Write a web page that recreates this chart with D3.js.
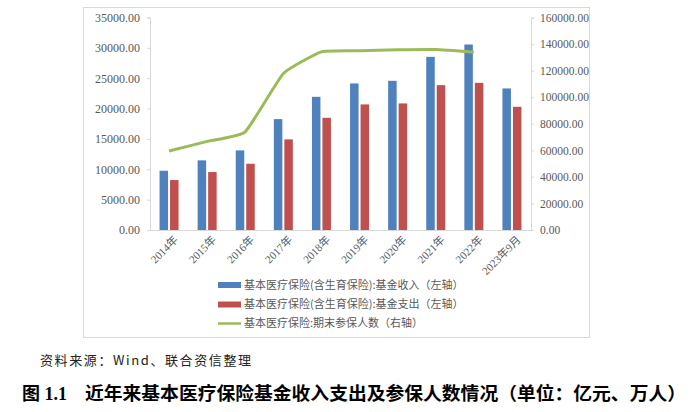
<!DOCTYPE html>
<html><head><meta charset="utf-8">
<script src="https://cdn.jsdelivr.net/npm/d3@7"></script>
<style>
body{margin:0;background:#fff;}
svg{display:block;}
</style></head>
<body>
<svg id="c" width="700" height="412"></svg>
<script>
const categories = ["2014年","2015年","2016年","2017年","2018年","2019年","2020年","2021年","2022年","2023年9月"];
const income = [9760, 11470, 13110, 18265, 21935, 24140, 24570, 28520, 30555, 23315];
const expense = [8230, 9545, 10910, 14925, 18480, 20685, 20850, 23860, 24240, 20290];
const insured = [59430, 66720, 73950, 117870, 134130, 134900, 135650, 135900, 133900, null];
const leftTicks = [0,5000,10000,15000,20000,25000,30000,35000];
const rightTicks = [0,20000,40000,60000,80000,100000,120000,140000,160000];
const legendLabels = ["基本医疗保险(含生育保险):基金收入（左轴）","基本医疗保险(含生育保险):基金支出（左轴）","基本医疗保险:期末参保人数（右轴）"];
const sourceText = "资料来源：Wind、联合资信整理";
const titleNum = "图 1.1";
const titleText = "近年来基本医疗保险基金收入支出及参保人数情况（单位：亿元、万人）";

const colors = {income:"#4F81BD", expense:"#C0504D", line:"#9BBB59"};
const svg = d3.select("#c");
const L=150, R=531, T=17.5, B=230;

// frame
svg.append("rect").attr("x",83.5).attr("y",7.5).attr("width",506).attr("height",330)
  .attr("fill","none").attr("stroke","#D9D9D9");

const x = d3.scaleBand().domain(categories).range([L,R]);
const yL = d3.scaleLinear().domain([0,35000]).range([B,T]);
const yR = d3.scaleLinear().domain([0,160000]).range([B,T]);
const bw = 8.5, gap = 2;

// axes
const axL = svg.append("g").attr("transform",`translate(${L},0)`)
  .call(d3.axisLeft(yL).tickValues(leftTicks).tickFormat(d=>d3.format(".2f")(d)).tickSize(3).tickPadding(7));
const axR = svg.append("g").attr("transform",`translate(${R},0)`)
  .call(d3.axisRight(yR).tickValues(rightTicks).tickFormat(d=>d3.format(".2f")(d)).tickSize(3).tickPadding(6));
const axB = svg.append("g").attr("transform",`translate(0,${B})`)
  .call(d3.axisBottom(x).tickSize(0).tickPadding(6));
[axL,axR,axB].forEach(a=>{
  a.select(".domain").attr("stroke","#D9D9D9");
  a.selectAll(".tick line").attr("stroke","#D9D9D9");
});
axL.selectAll("text").attr("font-family","'Liberation Serif',serif").attr("font-size","12px").attr("fill","#595959");
axR.selectAll("text").attr("font-family","'Liberation Serif',serif").attr("font-size","11.5px").attr("fill","#595959");
axB.select(".domain").attr("d",`M${L},0.5H${R}`);
axB.selectAll("text").attr("font-family","'Liberation Serif','Noto Sans CJK SC',serif").attr("font-size","11px").attr("fill","#595959")
  .attr("text-anchor","end").attr("dy","0.3em")
  .attr("transform","translate(3,4) rotate(-45)");

// bars
const cx = d=>x(d)+x.bandwidth()/2;
svg.append("g").selectAll("rect").data(categories).join("rect")
  .attr("x",(d)=>cx(d)-gap/2-bw).attr("width",bw)
  .attr("y",(d,i)=>yL(income[i])).attr("height",(d,i)=>B-yL(income[i]))
  .attr("fill",colors.income);
svg.append("g").selectAll("rect").data(categories).join("rect")
  .attr("x",(d)=>cx(d)+gap/2).attr("width",bw)
  .attr("y",(d,i)=>yL(expense[i])).attr("height",(d,i)=>B-yL(expense[i]))
  .attr("fill",colors.expense);

// line
const pts = categories.map((c,i)=>[cx(c), insured[i]]).filter(p=>p[1]!=null);
svg.append("path").datum(pts)
  .attr("d",d3.line().x(p=>p[0]).y(p=>yR(p[1])).curve(d3.curveCardinal.tension(0.6)))
  .attr("fill","none").attr("stroke",colors.line).attr("stroke-width",3).attr("stroke-linejoin","round");

// legend
const lg = svg.append("g");
const ly = [285,304.5,323.5];
legendLabels.forEach((t,i)=>{
  if(i<2){
    lg.append("rect").attr("x",218).attr("y",ly[i]-3).attr("width",23).attr("height",6).attr("fill",i===0?colors.income:colors.expense);
  } else {
    lg.append("line").attr("x1",218).attr("x2",241).attr("y1",ly[i]).attr("y2",ly[i]).attr("stroke",colors.line).attr("stroke-width",2.5);
  }
  lg.append("text").attr("x",244).attr("y",ly[i]).attr("dy","0.35em")
    .attr("font-family","'Noto Sans CJK SC',sans-serif").attr("font-size","11px").attr("fill","#595959").text(t);
});

// source & title
svg.append("text").attr("x",40).attr("y",360).attr("dy","0.35em")
  .attr("font-family","'Noto Sans CJK SC',sans-serif").attr("font-size","13px").attr("letter-spacing","1.6px").attr("fill","#222").text(sourceText);
svg.append("text").attr("x",22).attr("y",394).attr("dy","0.35em")
  .attr("font-family","'Liberation Serif','Noto Sans CJK SC',serif").attr("font-weight","bold").attr("font-size","18px").attr("fill","#000").text(titleNum);
svg.append("text").attr("x",85).attr("y",394).attr("dy","0.35em")
  .attr("font-family","'Noto Sans CJK SC',sans-serif").attr("font-weight","bold").attr("font-size","18px").attr("fill","#000")
  .attr("textLength",601).attr("lengthAdjust","spacingAndGlyphs").text(titleText);
</script>
</body></html>
